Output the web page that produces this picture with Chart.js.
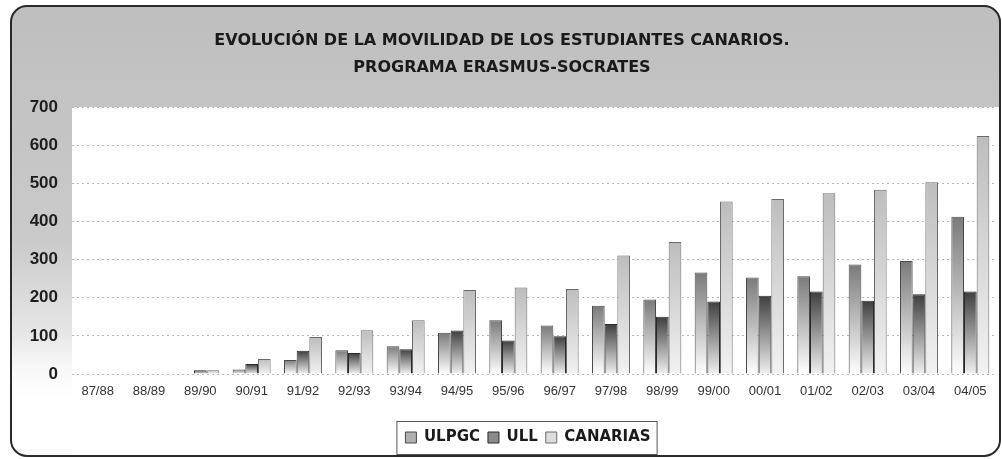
<!DOCTYPE html>
<html>
<head>
<meta charset="utf-8">
<script src="https://cdn.jsdelivr.net/npm/chart.js@4.4.0/dist/chart.umd.min.js"></script>
<style>
  html, body { margin: 0; padding: 0; background: #ffffff; }
  #wrap { width: 1002px; height: 459px; }
</style>
</head>
<body>
<div id="wrap"><canvas id="movilidad" width="1002" height="459"></canvas></div>
<script>
const cursos = ['87/88', '88/89', '89/90', '90/91', '91/92', '92/93', '93/94', '94/95', '95/96',
    '96/97', '97/98', '98/99', '99/00', '00/01', '01/02', '02/03', '03/04', '04/05'];
const ulpgc = [0, 0, 0, 12, 37, 62, 73, 108, 141, 127, 179, 195, 266, 253, 256, 287, 296, 412];
const ull = [0, 0, 10, 26, 61, 55, 65, 114, 88, 99, 131, 150, 190, 205, 216, 192, 209, 216];
const canarias = [0, 0, 10, 39, 97, 115, 141, 220, 227, 223, 311, 346, 452, 459, 474, 483, 503, 624];
const yTicks = [0, 100, 200, 300, 400, 500, 600, 700];

const LEGEND_SHIFT = 26;

// gradient from darker top to light bottom, one per bar
function barFill(top, bottom, flat) {
    return function(context) {
        const chart = context.chart;
        if (!chart.chartArea || context.raw === undefined) return flat;
        const y = chart.scales.y;
        const y0 = y.getPixelForValue(0);
        const y1 = y.getPixelForValue(context.raw);
        if (Math.abs(y0 - y1) < 1) return flat;
        const g = chart.ctx.createLinearGradient(0, y1, 0, y0);
        g.addColorStop(0, top);
        g.addColorStop(1, bottom);
        return g;
    };
}

const fondo = {
    id: 'fondo',
    afterLayout(chart) {
        // legend sits a bit right of the canvas centre in the original
        const lg = chart.legend;
        if (!lg) return;
        lg.left += LEGEND_SHIFT;
        lg.right += LEGEND_SHIFT;
    },
    beforeDraw(chart) {
        const ctx = chart.ctx;
        const area = chart.chartArea;
        ctx.save();
        ctx.fillStyle = '#ffffff';
        ctx.fillRect(0, 0, chart.width, chart.height);
        // gray band (top + left)
        const g = ctx.createLinearGradient(0, 0, 0, 400);
        g.addColorStop(0, '#bebebe');
        g.addColorStop(0.6, '#cacaca');
        g.addColorStop(1, '#fafafa');
        ctx.beginPath();
        ctx.roundRect(11, 6, 989, 450, 16);
        ctx.fillStyle = g;
        ctx.fill();
        // white plot + lower area
        ctx.fillStyle = '#ffffff';
        ctx.fillRect(area.left, area.top, area.right - area.left + 4, chart.height - area.top - 4);
        const w = ctx.createLinearGradient(0, area.bottom - 40, 0, area.bottom + 30);
        w.addColorStop(0, 'rgba(255,255,255,0)');
        w.addColorStop(1, 'rgba(255,255,255,1)');
        ctx.fillStyle = w;
        ctx.fillRect(12, area.bottom - 40, area.left - 12, chart.height - area.bottom + 30);
        // outer frame
        ctx.beginPath();
        ctx.roundRect(11, 6, 989, 450, 16);
        ctx.lineWidth = 2;
        ctx.strokeStyle = '#2a2a2a';
        ctx.stroke();
        ctx.restore();
    },
    afterDraw(chart) {
        const lg = chart.legend;
        if (!lg || !lg.legendHitBoxes || !lg.legendHitBoxes.length) return;
        const boxes = lg.legendHitBoxes;
        const left = Math.min(...boxes.map(b => b.left)) - 9;
        const right = Math.max(...boxes.map(b => b.left + b.width)) + 6;
        const top = boxes[0].top - 9;
        const bottom = boxes[0].top + boxes[0].height + 9;
        const ctx = chart.ctx;
        ctx.save();
        ctx.strokeStyle = '#555555';
        ctx.lineWidth = 1;
        ctx.strokeRect(left + 0.5, top + 0.5, right - left, bottom - top);
        ctx.restore();
    }
};

new Chart(document.getElementById('movilidad').getContext('2d'), {
    type: 'bar',
    data: {
        labels: cursos,
        datasets: [{
            label: 'ULPGC',
            data: ulpgc,
            backgroundColor: barFill('#7a7a7a', '#ffffff', '#b0b0b0'),
            borderColor: '#4a4a4a',
            borderWidth: 1
        }, {
            label: 'ULL',
            data: ull,
            backgroundColor: barFill('#3e3e3e', '#f0f0f0', '#8a8a8a'),
            borderColor: '#2a2a2a',
            borderWidth: 1
        }, {
            label: 'CANARIAS',
            data: canarias,
            backgroundColor: barFill('#bdbdbd', '#f2f2f2', '#dddddd'),
            borderColor: '#6a6a6a',
            borderWidth: 1
        }]
    },
    options: {
        responsive: false,
        animation: false,
        layout: { padding: { left: 8, right: 6, top: 0, bottom: 4 } },
        datasets: { bar: { categoryPercentage: 0.74, barPercentage: 1 } },
        scales: {
            x: {
                grid: { display: false, drawTicks: false },
                border: { display: false },
                ticks: {
                    color: '#333333',
                    font: { family: 'Liberation Sans', size: 13 },
                    padding: 10,
                    maxRotation: 0,
                    autoSkip: false
                },
                afterFit(scale) { scale.height = 48; }
            },
            y: {
                min: 0,
                max: 700,
                afterBuildTicks(scale) { scale.ticks = yTicks.map(v => ({ value: v })); },
                grid: {
                    color: '#b8b8b8',
                    drawTicks: false,
                    lineWidth: 1
                },
                border: { display: false, dash: [2, 3] },
                ticks: {
                    color: '#1e1e1e',
                    font: { family: 'Liberation Sans', size: 17, weight: 'bold' },
                    padding: 14
                },
                afterFit(scale) { scale.width = 64; }
            }
        },
        plugins: {
            title: {
                display: true,
                text: ['EVOLUCIÓN DE LA MOVILIDAD DE LOS ESTUDIANTES CANARIOS.', 'PROGRAMA ERASMUS-SOCRATES'],
                color: '#1a1a1a',
                font: { family: 'DejaVu Sans', size: 16, weight: 'bold', lineHeight: 1.6875 },
                padding: { top: 27, bottom: 26 }
            },
            legend: {
                position: 'bottom',
                labels: {
                    color: '#1a1a1a',
                    font: { family: 'DejaVu Sans', size: 15, weight: 'bold' },
                    boxWidth: 11,
                    boxHeight: 11,
                    padding: 8
                }
            },
            tooltip: { enabled: false }
        }
    },
    plugins: [fondo]
});
</script>
</body>
</html>
